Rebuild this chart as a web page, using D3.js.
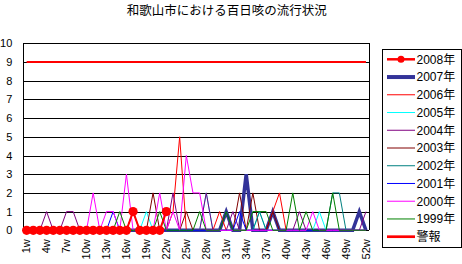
<!DOCTYPE html>
<html>
<head>
<meta charset="utf-8">
<script src="https://cdn.jsdelivr.net/npm/d3@7"></script>
<style>
	body { margin: 0; background: #fff; }
	svg { display: block; }
</style>
</head>
<body>
<div id="chart"></div>
<script>
// weekly pertussis counts, Wakayama city

var seriesNames = ['2008年', '2007年', '2006年', '2005年', '2004年', '2003年', '2002年', '2001年', '2000年', '1999年', '警報'];

var yTicks = [0, 1, 2, 3, 4, 5, 6, 7, 8, 9, 10];
var xTickLabels = ['1w', '4w', '7w', '10w', '13w', '16w', '19w', '22w', '25w', '28w', '31w', '34w', '37w', '40w', '43w', '46w', '49w', '52w'];

var y2008 = [0,0,0,0,0,0,0,0,0,0, 0,0,0,0,0,0,1,0,0,0, 0,1];
var y2007 = [0,0,0,0,0,0,0,0,0,0, 0,0,0,0,0,0,0,0,0,0, 0,0,0,0,0,0,0,0,0,0, 1,0,0,3,0,0,0,1,0,0, 0,0,0,0,0,0,0,0,0,0, 1,0];
var y2006 = [0,0,0,0,0,0,0,0,0,0, 0,0,0,0,0,0,0,0,0,0, 0,0,1,5,0,0,0,0,0,1, 0,0,0,0,0,0,0,1,2,0, 0,0,0,0,0,0,0,0,0,0, 0,0];
var y2005 = [0,0,0,0,0,0,0,0,0,0, 0,0,0,0,0,0,0,0,1,0, 0,0,0,0,0,0,0,2,0,0, 0,0,0,0,0,1,0,0,0,0, 0,0,0,0,1,0,0,0,0,0, 0,0];
var y2004 = [0,0,0,1,0,0,1,1,0,0, 0,0,0,0,0,0,0,0,0,0, 0,0,2,0,0,0,0,2,0,0, 0,1,0,0,0,0,0,0,0,0, 0,1,0,0,0,0,0,0,0,0, 0,1];
var y2003 = [0,0,0,0,0,0,0,0,0,0, 0,0,0,0,0,0,0,0,0,2, 0,0,0,0,1,0,0,0,0,0, 0,0,2,0,2,0,0,1,0,0, 0,0,0,0,0,0,0,0,0,0, 0,0];
var y2002 = [0,0,0,0,0,0,0,0,0,0, 0,0,0,0,0,0,0,0,0,0, 0,0,0,0,0,0,0,0,0,0, 0,0,0,0,0,1,0,0,0,0, 0,0,0,0,0,0,2,2,0,0, 0,0];
var y2001 = [0,0,0,0,0,0,0,0,0,0, 0,0,0,1,0,0,1,0,0,0, 0,0,0,0,0,0,0,0,0,0, 0,0,1,0,0,0,0,0,0,0, 0,0,0,0,0,0,0,0,0,0, 0,0];
var y2000 = [0,0,0,0,0,0,0,0,0,0, 2,0,1,1,0,3,0,0,0,0, 2,0,1,0,4,2,2,0,0,0, 0,0,0,0,0,0,0,0,0,0, 0,0,0,1,0,0,0,0,0,0, 0,0];
var y1999 = [0,0,0,0,0,0,0,0,0,0, 0,0,0,0,1,0,0,0,0,0, 1,0,0,0,0,0,1,0,0,0, 1,0,0,0,1,1,1,0,0,0, 2,0,1,0,0,0,2,0,0,0, 0,0];
var yAlarm = [9,9,9,9,9,9,9,9,9,9, 9,9,9,9,9,9,9,9,9,9, 9,9,9,9,9,9,9,9,9,9, 9,9,9,9,9,9,9,9,9,9, 9,9,9,9,9,9,9,9,9,9, 9,9];

var weeks = d3.range(1, 53).map(function(d) { return d + 'w'; });

var width = 462,
	height = 264,
	margin = {
		top: 43.3,
		bottom: 33.7,
		left: 23.3,
		right: 92.7,
	},
	drawWidth = width - margin.left - margin.right,
	drawHeight = height - margin.top - margin.bottom;

var svg = d3.select('#chart')
	.append('svg')
	.attr('width', width)
	.attr('height', height);

svg.append('rect')
	.attr('width', width)
	.attr('height', height)
	.attr('fill', '#fff');

svg.append('text')
	.attr('x', 226.7)
	.attr('y', 14.6)
	.attr('text-anchor', 'middle')
	.attr('font-family', '"Noto Sans CJK JP", sans-serif')
	.attr('font-size', 12.5)
	.attr('fill', '#000')
	.text('和歌山市における百日咳の流行状況');

var g = svg.append('g')
	.attr('transform', 'translate(' + margin.left + ',' + margin.top + ')');

var xScale = d3.scaleBand()
	.domain(weeks)
	.range([0, drawWidth]);

var yScale = d3.scaleLinear()
	.domain([0, 10])
	.range([drawHeight, 0]);

var cx = function(i) { return xScale(weeks[i]) + xScale.bandwidth() / 2; };

// gridlines + y labels
var yAxis = d3.axisLeft(yScale)
	.tickValues(yTicks)
	.tickSize(-drawWidth)
	.tickPadding(11)
	.tickFormat(d3.format('d'));

var yAxisLabel = g.append('g')
	.attr('class', 'axis')
	.call(yAxis);
yAxisLabel.select('.domain').remove();
yAxisLabel.selectAll('line')
	.attr('stroke', '#000')
	.attr('stroke-width', 1)
	.attr('shape-rendering', 'crispEdges');
yAxisLabel.selectAll('text')
	.attr('font-family', '"Liberation Sans", Arial, sans-serif')
	.attr('font-size', 11)
	.attr('fill', '#000');

// plot borders
g.append('line')
	.attr('x1', 0).attr('x2', 0)
	.attr('y1', 0).attr('y2', drawHeight)
	.attr('stroke', '#000')
	.attr('shape-rendering', 'crispEdges');
g.append('line')
	.attr('x1', drawWidth).attr('x2', drawWidth)
	.attr('y1', 0).attr('y2', drawHeight)
	.attr('stroke', '#000')
	.attr('shape-rendering', 'crispEdges');

// x labels, rotated
var xAxis = d3.axisBottom(xScale)
	.tickValues(xTickLabels)
	.tickSize(0)
	.tickPadding(0);

var xAxisLabel = g.append('g')
	.attr('transform', 'translate(0,' + drawHeight + ')')
	.call(xAxis);
xAxisLabel.select('.domain').remove();
xAxisLabel.selectAll('text')
	.attr('font-family', '"Liberation Sans", Arial, sans-serif')
	.attr('font-size', 11)
	.attr('fill', '#000')
	.attr('text-anchor', 'end')
	.attr('dy', '0.35em')
	.attr('transform', 'translate(0,9) rotate(-90)')
	.attr('y', 0)
	.attr('x', 0);

var series = [
	{ name: '2008年', values: y2008, color: '#FF0000', width: 2, marker: true },
	{ name: '2007年', values: y2007, color: '#333399', width: 3.5 },
	{ name: '2006年', values: y2006, color: '#FF0000', width: 1 },
	{ name: '2005年', values: y2005, color: '#00FFFF', width: 1 },
	{ name: '2004年', values: y2004, color: '#800080', width: 1 },
	{ name: '2003年', values: y2003, color: '#800000', width: 1 },
	{ name: '2002年', values: y2002, color: '#008080', width: 1 },
	{ name: '2001年', values: y2001, color: '#0000FF', width: 1 },
	{ name: '2000年', values: y2000, color: '#FF00FF', width: 1 },
	{ name: '1999年', values: y1999, color: '#008000', width: 1 },
	{ name: '警報', values: yAlarm, color: '#FF0000', width: 2.2 }
];

var line = d3.line()
	.x(function(d, i) { return cx(i); })
	.y(function(d) { return yScale(d); });

// older years drawn over 2007, 2008 on top
var drawOrder = [10, 1, 2, 3, 4, 5, 6, 7, 8, 9, 0];

g.append('g').selectAll('path')
	.data(drawOrder.map(function(k) { return series[k]; }))
	.enter().append('path')
	.attr('d', function(d) { return line(d.values); })
	.attr('fill', 'none')
	.attr('stroke', function(d) { return d.color; })
	.attr('stroke-width', function(d) { return d.width; })
	.attr('stroke-linejoin', 'miter');

g.append('g').selectAll('circle')
	.data(y2008)
	.enter().append('circle')
	.attr('cx', function(d, i) { return cx(i); })
	.attr('cy', function(d) { return yScale(d); })
	.attr('r', 4.6)
	.attr('fill', '#FF0000');

// legend
var legend = svg.append('g')
	.attr('transform', 'translate(382,49)');

legend.append('rect')
	.attr('x', 0.5).attr('y', 0.5)
	.attr('width', 79).attr('height', 198)
	.attr('fill', '#fff')
	.attr('stroke', '#000');

var item = legend.selectAll('.item')
	.data(series)
	.enter().append('g')
	.attr('class', 'item')
	.attr('transform', function(d, i) { return 'translate(0,' + (10.3 + i * 17.74) + ')'; });

item.append('line')
	.attr('x1', 5).attr('x2', 33)
	.attr('stroke', function(d) { return d.color; })
	.attr('stroke-width', function(d) { return d.width === 1 ? 1 : d.width + 0.5; });

item.filter(function(d) { return d.marker; })
	.append('circle')
	.attr('cx', 19)
	.attr('r', 3.5)
	.attr('fill', '#FF0000');

item.append('text')
	.attr('x', 34.5)
	.attr('dy', '0.36em')
	.attr('font-family', '"Liberation Sans", "Noto Sans CJK JP", sans-serif')
	.attr('font-size', 12)
	.attr('fill', '#000')
	.text(function(d) { return d.name; });
</script>
</body>
</html>
